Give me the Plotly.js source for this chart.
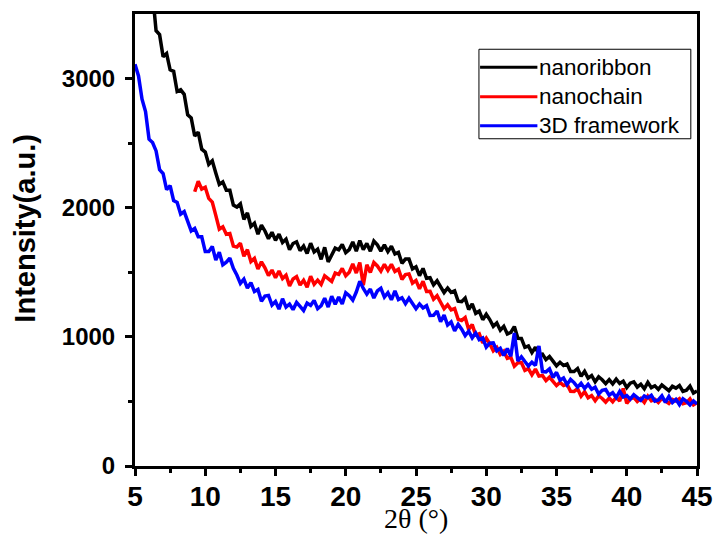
<!DOCTYPE html>
<html>
<head>
<meta charset="utf-8">
<script src="https://cdn.plot.ly/plotly-3.0.1.min.js"></script>
<style>html,body{margin:0;padding:0;background:#fff;}#chart{width:716px;height:537px;}</style>
</head>
<body>
<div id="chart"></div>
<script>
var twoTheta = [
5,5.25,5.5,5.75,6,6.25,6.5,6.75,
7,7.25,7.5,7.75,8,8.25,8.5,8.75,
9,9.25,9.5,9.75,10,10.25,10.5,10.75,
11,11.25,11.5,11.75,12,12.25,12.5,12.75,
13,13.25,13.5,13.75,14,14.25,14.5,14.75,
15,15.25,15.5,15.75,16,16.25,16.5,16.75,
17,17.25,17.5,17.75,18,18.25,18.5,18.75,
19,19.25,19.5,19.75,20,20.25,20.5,20.75,
21,21.25,21.5,21.75,22,22.25,22.5,22.75,
23,23.25,23.5,23.75,24,24.25,24.5,24.75,
25,25.25,25.5,25.75,26,26.25,26.5,26.75,
27,27.25,27.5,27.75,28,28.25,28.5,28.75,
29,29.25,29.5,29.75,30,30.25,30.5,30.75,
31,31.25,31.5,31.75,32,32.25,32.5,32.75,
33,33.25,33.5,33.75,34,34.25,34.5,34.75,
35,35.25,35.5,35.75,36,36.25,36.5,36.75,
37,37.25,37.5,37.75,38,38.25,38.5,38.75,
39,39.25,39.5,39.75,40,40.25,40.5,40.75,
41,41.25,41.5,41.75,42,42.25,42.5,42.75,
43,43.25,43.5,43.75,44,44.25,44.5,44.75,
45];

var nanoribbon = [
null,null,null,null,null,3660,3370,3340,
3170,3194,3068,3056,2900,2913,2878,2719,
2696,2555,2585,2453,2431,2336,2363,2269,
2180,2200,2135,2135,2020,2005,2030,1910,
1960,1855,1880,1795,1865,1820,1760,1810,
1748,1795,1731,1757,1675,1723,1736,1668,
1703,1645,1725,1657,1679,1600,1693,1580,
1629,1687,1674,1715,1653,1676,1735,1664,
1745,1676,1723,1663,1741,1712,1664,1712,
1660,1701,1642,1654,1570,1602,1602,1526,
1542,1474,1530,1454,1458,1402,1434,1389,
1343,1378,1344,1356,1276,1272,1300,1212,
1255,1182,1199,1133,1175,1134,1082,1108,
1052,1082,1023,1034,1080,989,988,919,
929,878,920,863,866,824,848,812,
776,803,778,790,732,732,755,694,
733,681,701,652,690,668,638,669,
636,673,639,657,607,641,652,611,
633,598,648,607,621,593,627,605,
583,617,603,623,578,587,618,565,
580];

var nanochain = [
null,null,null,null,null,null,null,null,
null,null,null,null,null,null,null,null,
null,2124,2205,2144,2158,2072,2044,1941,
1834,1852,1794,1800,1703,1696,1725,1624,
1675,1583,1608,1525,1581,1534,1474,1517,
1458,1510,1451,1477,1395,1448,1466,1401,
1438,1385,1470,1407,1439,1406,1472,1451,
1429,1494,1484,1530,1473,1501,1565,1494,
1575,1400,1558,1498,1576,1549,1509,1562,
1515,1561,1507,1524,1445,1482,1487,1416,
1437,1372,1430,1352,1353,1292,1319,1268,
1218,1248,1209,1219,1136,1127,1150,1057,
1095,1014,1024,953,990,947,892,918,
864,889,834,842,773,800,801,741,
754,706,750,696,701,662,688,655,
623,647,623,633,578,577,598,540,
575,528,545,505,543,523,495,526,
497,532,503,600,485,519,532,499,
523,492,540,504,517,492,523,503,
485,516,503,521,482,490,519,474,
490];

var framework3D = [
3110,3020,2840,2745,2530,2505,2440,2295,
2265,2140,2170,2055,2040,1950,1970,1895,
1820,1840,1775,1775,1660,1660,1700,1595,
1655,1558,1578,1610,1531,1479,1414,1447,
1378,1420,1351,1367,1275,1316,1321,1246,
1273,1215,1295,1230,1254,1211,1267,1236,
1204,1262,1244,1282,1218,1241,1300,1231,
1315,1253,1308,1255,1341,1319,1284,1347,
1430,1375,1331,1370,1300,1356,1376,1308,
1342,1287,1355,1289,1303,1257,1299,1259,
1218,1255,1224,1241,1166,1167,1200,1117,
1168,1092,1115,1047,1097,1059,1010,1044,
992,1030,978,991,920,951,953,892,
911,856,910,849,1030,813,846,809,
774,804,778,930,731,729,752,686,
725,665,682,630,671,646,611,640,
601,633,594,610,557,586,592,548,
568,530,578,534,546,518,552,530,
508,542,528,548,503,512,543,493,
538,491,516,475,520,501,473,504,
480];

var seriesNames = ['nanoribbon','nanochain','3D framework'];
var seriesColors = ['#000000','#ff0000','#0000ff'];
var seriesData = [nanoribbon, nanochain, framework3D];
var xTickVals = [5,10,15,20,25,30,35,40,45];
var yTickVals = [0,1000,2000,3000];

var traces = seriesData.map(function(d,i){
  return {x: twoTheta, y: d, type:'scatter', mode:'lines', name: seriesNames[i],
    line:{color: seriesColors[i], width:3.5}, connectgaps:false, hoverinfo:'skip', showlegend:false};
});

// legend drawn manually
var legY = [0.882, 0.817, 0.753];
var shapes = [{type:'rect', xref:'paper', yref:'paper', x0:0.612, x1:0.989, y0:0.724, y1:0.922,
  line:{color:'#000', width:1}, fillcolor:'rgba(0,0,0,0)'}];
var annotations = [];
seriesNames.forEach(function(n,i){
  shapes.push({type:'line', xref:'paper', yref:'paper', x0:0.614, x1:0.716, y0:legY[i], y1:legY[i],
    line:{color: seriesColors[i], width:3}});
  annotations.push({xref:'paper', yref:'paper', x:0.716, y:legY[i], xanchor:'left', yanchor:'middle',
    text:n, showarrow:false, font:{family:'Liberation Sans, Arial, sans-serif', size:22.5, color:'#000'}});
});
annotations.push({xref:'paper', yref:'paper', x:-0.196, y:0.527, xanchor:'center', yanchor:'middle',
  text:'Intensity(a.u.)', textangle:-90, showarrow:false,
  font:{family:'Liberation Sans, Arial, sans-serif', size:29, color:'#000', weight:'bold'}});
annotations.push({xref:'paper', yref:'paper', x:0.5, y:-0.155, xanchor:'center', yanchor:'bottom',
  text:'2θ (°)', showarrow:false,
  font:{family:'Liberation Serif, Times New Roman, serif', size:28, color:'#000'}});

var layout = {
  width:716, height:537,
  margin:{l:135, r:19, t:13.5, b:71},
  paper_bgcolor:'#fff', plot_bgcolor:'#fff',
  showlegend:false,
  xaxis:{range:[5,45], tickvals:xTickVals, ticktext:xTickVals.map(String),
    showgrid:false, zeroline:false, showline:true, linecolor:'#000', linewidth:3, mirror:true,
    ticks:'outside', ticklen:7, tickwidth:3, tickcolor:'#000', ticklabelstandoff:-4,
    minor:{tickvals:[7.5,12.5,17.5,22.5,27.5,32.5,37.5,42.5], ticks:'outside', ticklen:4, tickwidth:3, tickcolor:'#000', showgrid:false},
    tickfont:{family:'Liberation Sans, Arial, sans-serif', size:28, color:'#000', weight:'bold'}},
  yaxis:{range:[0,3500], tickvals:yTickVals, ticktext:yTickVals.map(String),
    showgrid:false, zeroline:false, showline:true, linecolor:'#000', linewidth:3, mirror:true,
    ticks:'outside', ticklen:7, tickwidth:3, tickcolor:'#000', ticklabelstandoff:5,
    minor:{tickvals:[500,1500,2500], ticks:'outside', ticklen:4, tickwidth:3, tickcolor:'#000', showgrid:false},
    tickfont:{family:'Liberation Sans, Arial, sans-serif', size:24, color:'#000', weight:'bold'}},
  shapes:shapes,
  annotations:annotations
};

Plotly.newPlot('chart', traces, layout, {staticPlot:true, displayModeBar:false});
</script>
</body>
</html>
